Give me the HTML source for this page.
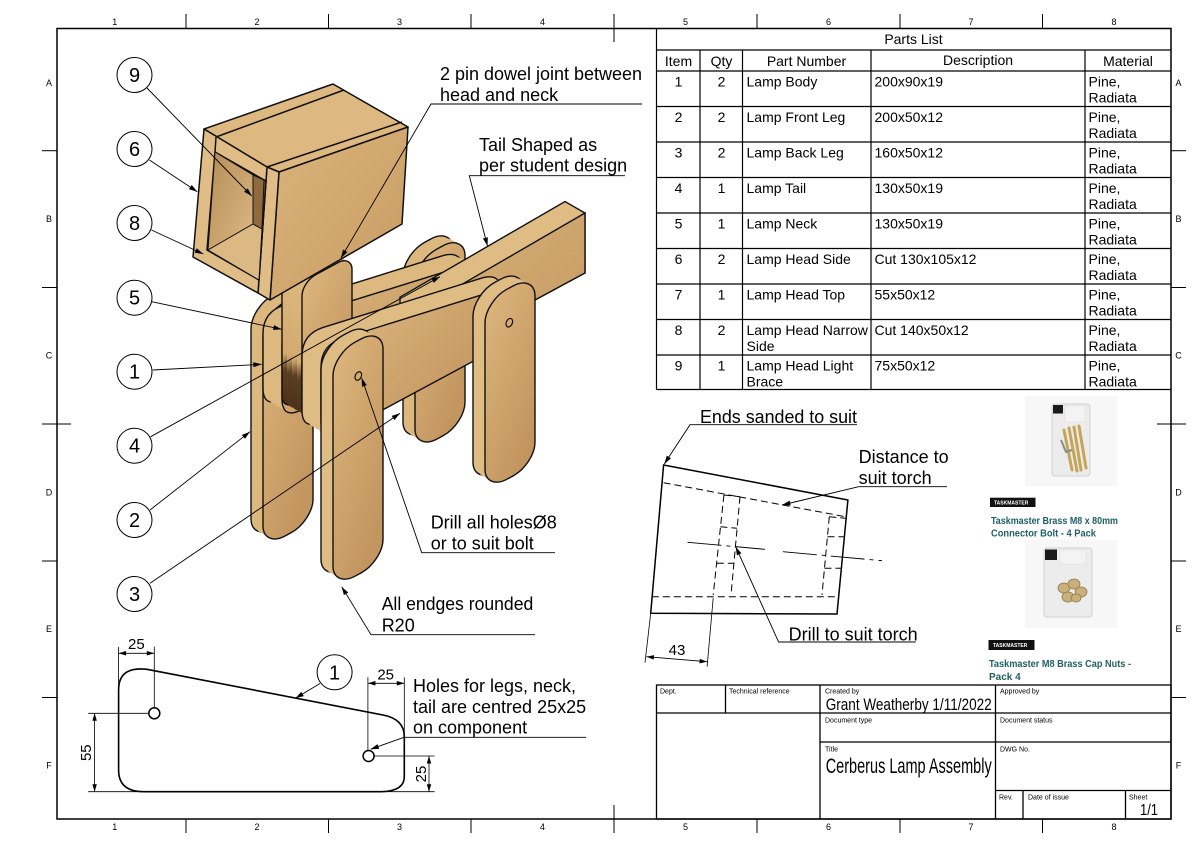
<!DOCTYPE html>
<html><head><meta charset="utf-8"><style>
html,body{margin:0;padding:0;background:#fff;}
svg{display:block;}
text{font-family:"Liberation Sans",Arial,sans-serif;fill:#000;}
</style></head><body>
<svg width="1200" height="848" viewBox="0 0 1200 848" xmlns="http://www.w3.org/2000/svg">
<defs>
 <marker id="ar" viewBox="0 0 10 6" refX="10" refY="3" markerWidth="9" markerHeight="5" orient="auto" markerUnits="userSpaceOnUse"><path d="M0,0 L10,3 L0,6 Z" fill="#000"/></marker>
 <marker id="ad" viewBox="0 0 10 6" refX="10" refY="3" markerWidth="8" markerHeight="4.5" orient="auto-start-reverse" markerUnits="userSpaceOnUse"><path d="M0,0 L10,3 L0,6 Z" fill="#000"/></marker>
 <linearGradient id="gF" x1="0" y1="0" x2="0.6" y2="1"><stop offset="0" stop-color="#dcb57c"/><stop offset="1" stop-color="#c39660"/></linearGradient>
 <linearGradient id="gB" x1="0" y1="0" x2="1" y2="1"><stop offset="0" stop-color="#d9b27a"/><stop offset="1" stop-color="#c59862"/></linearGradient>
 <linearGradient id="gN" x1="0" y1="0" x2="0" y2="1"><stop offset="0" stop-color="#ddb97f"/><stop offset="0.6" stop-color="#d3aa70"/><stop offset="0.72" stop-color="#5c3e22"/><stop offset="1" stop-color="#4a3018"/></linearGradient>
 <linearGradient id="gH" x1="0" y1="0" x2="1" y2="1"><stop offset="0" stop-color="#dab47b"/><stop offset="1" stop-color="#c89c64"/></linearGradient>
 <linearGradient id="gO" x1="0" y1="0" x2="1" y2="1"><stop offset="0" stop-color="#b58c56"/><stop offset="1" stop-color="#dcb985"/></linearGradient>
 <path id="bp" vector-effect="non-scaling-stroke" d="M0,22 Q0,0 21.5,4.8 L178.5,40.2 Q200,45 200,67 L200,76 Q200,98 178,98 L22,98 Q0,98 0,76 Z"/>
 <rect id="lf" vector-effect="non-scaling-stroke" width="50" height="234" rx="22" ry="22"/>
 <rect id="lb" vector-effect="non-scaling-stroke" width="50" height="190" rx="22" ry="22"/>
 <rect id="nk" vector-effect="non-scaling-stroke" width="50" height="140" rx="14" ry="14"/>
</defs>

<!-- ===== Frame ===== -->
<rect x="57" y="28.5" width="1114" height="790.5" fill="none" stroke="#000" stroke-width="1.5"/>
<g stroke="#000" stroke-width="1">
 <line x1="186" y1="14" x2="186" y2="28.5"/><line x1="328.5" y1="14" x2="328.5" y2="28.5"/><line x1="471" y1="14" x2="471" y2="28.5"/><line x1="614" y1="14" x2="614" y2="42"/><line x1="757" y1="14" x2="757" y2="28.5"/><line x1="900" y1="14" x2="900" y2="28.5"/><line x1="1042.5" y1="14" x2="1042.5" y2="28.5"/>
 <line x1="186" y1="819" x2="186" y2="833"/><line x1="328.5" y1="819" x2="328.5" y2="833"/><line x1="471" y1="819" x2="471" y2="833"/><line x1="614" y1="805" x2="614" y2="833"/><line x1="757" y1="819" x2="757" y2="833"/><line x1="900" y1="819" x2="900" y2="833"/><line x1="1042.5" y1="819" x2="1042.5" y2="833"/>
 <line x1="42" y1="150.7" x2="57" y2="150.7"/><line x1="42" y1="287.5" x2="57" y2="287.5"/><line x1="42" y1="424" x2="71" y2="424"/><line x1="42" y1="561" x2="57" y2="561"/><line x1="42" y1="697.5" x2="57" y2="697.5"/>
 <line x1="1171" y1="150.7" x2="1186" y2="150.7"/><line x1="1171" y1="287.5" x2="1186" y2="287.5"/><line x1="1157" y1="424" x2="1186" y2="424"/><line x1="1171" y1="561" x2="1186" y2="561"/><line x1="1171" y1="697.5" x2="1186" y2="697.5"/>
</g>
<g font-size="9" text-anchor="middle">
 <text x="114.7" y="25">1</text><text x="257" y="25">2</text><text x="399.5" y="25">3</text><text x="542.5" y="25">4</text><text x="685.5" y="25">5</text><text x="828.5" y="25">6</text><text x="971" y="25">7</text><text x="1114" y="25">8</text>
 <text x="114.7" y="830">1</text><text x="257" y="830">2</text><text x="399.5" y="830">3</text><text x="542.5" y="830">4</text><text x="685.5" y="830">5</text><text x="828.5" y="830">6</text><text x="971" y="830">7</text><text x="1114" y="830">8</text>
 <text x="49" y="86">A</text><text x="49" y="222">B</text><text x="49" y="358.5">C</text><text x="49" y="495.5">D</text><text x="49" y="632">E</text><text x="49" y="768.5">F</text>
 <text x="1178.5" y="86">A</text><text x="1178.5" y="222">B</text><text x="1178.5" y="358.5">C</text><text x="1178.5" y="495.5">D</text><text x="1178.5" y="632">E</text><text x="1178.5" y="768.5">F</text>
</g>

<!-- ===== Parts list ===== -->
<g stroke="#000" stroke-width="1.2" fill="none">
 <line x1="656.5" y1="28.5" x2="656.5" y2="389.5"/>
 <line x1="656.5" y1="50" x2="1171" y2="50"/>
 <line x1="656.5" y1="71" x2="1171" y2="71"/>
 <line x1="656.5" y1="106.5" x2="1171" y2="106.5"/>
 <line x1="656.5" y1="142" x2="1171" y2="142"/>
 <line x1="656.5" y1="177.5" x2="1171" y2="177.5"/>
 <line x1="656.5" y1="213" x2="1171" y2="213"/>
 <line x1="656.5" y1="248.5" x2="1171" y2="248.5"/>
 <line x1="656.5" y1="284" x2="1171" y2="284"/>
 <line x1="656.5" y1="319.5" x2="1171" y2="319.5"/>
 <line x1="656.5" y1="355" x2="1171" y2="355"/>
 <line x1="656.5" y1="389.5" x2="1171" y2="389.5"/>
 <line x1="700" y1="50" x2="700" y2="389.5"/>
 <line x1="742.5" y1="50" x2="742.5" y2="389.5"/>
 <line x1="871" y1="50" x2="871" y2="389.5"/>
 <line x1="1085" y1="50" x2="1085" y2="389.5"/>
</g>
<g font-size="14">
 <text x="913.5" y="44" text-anchor="middle">Parts List</text>
 <text x="678.5" y="66" text-anchor="middle">Item</text>
 <text x="721.5" y="66" text-anchor="middle">Qty</text>
 <text x="806.5" y="66" text-anchor="middle">Part Number</text>
 <text x="978" y="65" text-anchor="middle">Description</text>
 <text x="1128" y="66" text-anchor="middle">Material</text>
 <g text-anchor="middle">
  <text x="678.5" y="86.5">1</text><text x="721.5" y="86.5">2</text>
  <text x="678.5" y="122">2</text><text x="721.5" y="122">2</text>
  <text x="678.5" y="157.5">3</text><text x="721.5" y="157.5">2</text>
  <text x="678.5" y="193">4</text><text x="721.5" y="193">1</text>
  <text x="678.5" y="228.5">5</text><text x="721.5" y="228.5">1</text>
  <text x="678.5" y="264">6</text><text x="721.5" y="264">2</text>
  <text x="678.5" y="299.5">7</text><text x="721.5" y="299.5">1</text>
  <text x="678.5" y="335">8</text><text x="721.5" y="335">2</text>
  <text x="678.5" y="370.5">9</text><text x="721.5" y="370.5">1</text>
 </g>
 <text x="746.5" y="86.5">Lamp Body</text>
 <text x="746.5" y="122">Lamp Front Leg</text>
 <text x="746.5" y="157.5">Lamp Back Leg</text>
 <text x="746.5" y="193">Lamp Tail</text>
 <text x="746.5" y="228.5">Lamp Neck</text>
 <text x="746.5" y="264">Lamp Head Side</text>
 <text x="746.5" y="299.5">Lamp Head Top</text>
 <text x="746.5" y="335">Lamp Head Narrow</text><text x="746.5" y="351">Side</text>
 <text x="746.5" y="370.5">Lamp Head Light</text><text x="746.5" y="386.5">Brace</text>
 <text x="874.5" y="86.5">200x90x19</text>
 <text x="874.5" y="122">200x50x12</text>
 <text x="874.5" y="157.5">160x50x12</text>
 <text x="874.5" y="193">130x50x19</text>
 <text x="874.5" y="228.5">130x50x19</text>
 <text x="874.5" y="264">Cut 130x105x12</text>
 <text x="874.5" y="299.5">55x50x12</text>
 <text x="874.5" y="335">Cut 140x50x12</text>
 <text x="874.5" y="370.5">75x50x12</text>
 <g>
  <text x="1088.5" y="86.5">Pine,</text><text x="1088.5" y="102.5">Radiata</text>
  <text x="1088.5" y="122">Pine,</text><text x="1088.5" y="138">Radiata</text>
  <text x="1088.5" y="157.5">Pine,</text><text x="1088.5" y="173.5">Radiata</text>
  <text x="1088.5" y="193">Pine,</text><text x="1088.5" y="209">Radiata</text>
  <text x="1088.5" y="228.5">Pine,</text><text x="1088.5" y="244.5">Radiata</text>
  <text x="1088.5" y="264">Pine,</text><text x="1088.5" y="280">Radiata</text>
  <text x="1088.5" y="299.5">Pine,</text><text x="1088.5" y="315.5">Radiata</text>
  <text x="1088.5" y="335">Pine,</text><text x="1088.5" y="351">Radiata</text>
  <text x="1088.5" y="370.5">Pine,</text><text x="1088.5" y="386.5">Radiata</text>
 </g>
</g>

<!-- ===== Title block ===== -->
<g stroke="#000" stroke-width="1.3" fill="none">
 <rect x="656.5" y="685" width="514.5" height="134"/>
 <line x1="656.5" y1="713" x2="1171" y2="713"/>
 <line x1="820" y1="742" x2="1171" y2="742"/>
 <line x1="995.5" y1="790.5" x2="1171" y2="790.5"/>
 <line x1="725.5" y1="685" x2="725.5" y2="713"/>
 <line x1="820" y1="685" x2="820" y2="819"/>
 <line x1="995.5" y1="685" x2="995.5" y2="819"/>
 <line x1="1023" y1="790.5" x2="1023" y2="819"/>
 <line x1="1125.5" y1="790.5" x2="1125.5" y2="819"/>
</g>
<g font-size="7">
 <text x="660" y="693.5">Dept.</text>
 <text x="729" y="693.5">Technical reference</text>
 <text x="825" y="693.5">Created by</text>
 <text x="1000" y="693.5">Approved by</text>
 <text x="825" y="722.5">Document type</text>
 <text x="1000" y="722.5">Document status</text>
 <text x="825" y="751.5">Title</text>
 <text x="1000" y="751.5">DWG No.</text>
 <text x="999" y="799.5">Rev.</text>
 <text x="1028" y="799.5">Date of issue</text>
 <text x="1129" y="799.5">Sheet</text>
</g>
<text x="825.7" y="710" font-size="16.5" textLength="166" lengthAdjust="spacingAndGlyphs">Grant Weatherby 1/11/2022</text>
<text x="825.7" y="773" font-size="21" textLength="166" lengthAdjust="spacingAndGlyphs">Cerberus Lamp Assembly</text>
<text x="1140" y="815" font-size="16" textLength="18" lengthAdjust="spacingAndGlyphs">1/1</text>

<!-- ===== Products ===== -->
<rect x="1025" y="396" width="92" height="90" fill="#f7f7f7"/>
<rect x="1052" y="404" width="38" height="72" rx="3" fill="#ececec" stroke="#d2d2d2"/>
<rect x="1053" y="405" width="10" height="8.5" fill="#1a1a1a"/>
<rect x="1065" y="406" width="20" height="16" fill="#f3f3f3" stroke="#ddd" stroke-width="0.5"/>
<g stroke="#c7a558" stroke-width="3" stroke-linecap="round">
 <line x1="1064" y1="430" x2="1072" y2="470"/>
 <line x1="1069" y1="428" x2="1077" y2="471"/>
 <line x1="1074" y1="427" x2="1081" y2="470"/>
 <line x1="1079" y1="426" x2="1086" y2="468"/>
</g>
<path d="M1061,440 L1066,452 L1072,450" fill="none" stroke="#8a8a8a" stroke-width="2"/>
<rect x="990" y="497.7" width="45.5" height="9.3" fill="#111"/>
<text x="994" y="504.5" font-size="5" style="fill:#fff" font-weight="bold">TASKMASTER</text>
<g font-size="10" font-weight="bold">
 <text x="991" y="524" textLength="127" lengthAdjust="spacingAndGlyphs" style="fill:#1f6067">Taskmaster Brass M8 x 80mm</text>
 <text x="991" y="536.5" style="fill:#1f6067" textLength="105" lengthAdjust="spacingAndGlyphs">Connector Bolt - 4 Pack</text>
</g>
<rect x="1025" y="540" width="92" height="88" fill="#f7f7f7"/>
<rect x="1044" y="548" width="48" height="69" rx="3" fill="#ececec" stroke="#d2d2d2"/>
<rect x="1045" y="549.5" width="12" height="10.5" fill="#1a1a1a"/>
<rect x="1060" y="550" width="26" height="14" fill="#f3f3f3" stroke="#ddd" stroke-width="0.5"/>
<g fill="#c9b07a" stroke="#8f7a4a" stroke-width="0.8">
 <ellipse cx="1064" cy="588" rx="6" ry="5"/>
 <ellipse cx="1074" cy="584" rx="6" ry="5"/>
 <ellipse cx="1081" cy="592" rx="6" ry="5"/>
 <ellipse cx="1068" cy="597" rx="6" ry="5"/>
 <ellipse cx="1076" cy="598" rx="5" ry="4"/>
</g>
<rect x="988.5" y="640" width="46" height="10" fill="#111"/>
<text x="993" y="647" font-size="5" style="fill:#fff" font-weight="bold">TASKMASTER</text>
<g font-size="10" font-weight="bold">
 <text x="989" y="667" style="fill:#1f6067" textLength="142" lengthAdjust="spacingAndGlyphs">Taskmaster M8 Brass Cap Nuts -</text>
 <text x="989" y="680" style="fill:#1f6067">Pack 4</text>
</g>

<!-- ===== Sanded end view ===== -->
<g fill="none" stroke="#000">
 <path d="M663.6,465 L847.9,500 L837,614 L650.7,613.3 Z" stroke-width="1.5"/>
 <line x1="650.7" y1="613.3" x2="645" y2="662.7" stroke-width="0.8"/>
 <line x1="713.2" y1="598" x2="707.1" y2="666.7" stroke-width="0.8"/>
 <line x1="646.4" y1="656.7" x2="707.1" y2="661.7" stroke-width="0.8" marker-start="url(#ad)" marker-end="url(#ad)"/>
 <g stroke-width="1" stroke-dasharray="7 4">
  <line x1="663.6" y1="482.7" x2="845.4" y2="516.7"/>
  <line x1="651.8" y1="596.7" x2="838.2" y2="596.7"/>
  <line x1="723.9" y1="495" x2="713.2" y2="595"/>
  <line x1="740" y1="496.7" x2="731" y2="595"/>
  <line x1="723.9" y1="495" x2="740" y2="496.7"/>
  <line x1="720.4" y1="526.7" x2="737" y2="528.3"/>
  <line x1="716.8" y1="563.3" x2="733.6" y2="563.3"/>
  <line x1="829.3" y1="516.7" x2="822" y2="595"/>
  <line x1="829.3" y1="516.7" x2="845.4" y2="518.3"/>
  <line x1="827.5" y1="536.7" x2="843.6" y2="536.7"/>
  <line x1="824.5" y1="568.3" x2="840.8" y2="568.3"/>
 </g>
 <g stroke-width="0.9" stroke-dasharray="34 5 4 5">
  <line x1="687.5" y1="542.3" x2="765" y2="549.3"/>
  <line x1="782.9" y1="551.7" x2="882" y2="560.7"/>
 </g>
 <g stroke-width="0.9">
  <polyline points="857,424.7 690,424.7 664.3,464" marker-end="url(#ar)"/>
  <polyline points="947,486.7 858.6,486.7 782,505" marker-end="url(#ar)"/>
  <polyline points="915.7,642 778.6,642 735.7,546.7" marker-end="url(#ar)"/>
 </g>
</g>
<text x="700" y="423" font-size="18" textLength="157" lengthAdjust="spacingAndGlyphs">Ends sanded to suit</text>
<text x="858.6" y="463" font-size="18">Distance to</text>
<text x="858.6" y="484" font-size="18">suit torch</text>
<text x="788.6" y="640.5" font-size="18">Drill to suit torch</text>
<text x="677" y="655" font-size="15" text-anchor="middle">43</text>

<!-- ===== Isometric assembly ===== -->
<use href="#lb" transform="matrix(1,-0.537,0,1,403,253.9)" fill="#dcb87f" stroke="#111" stroke-width="1.4"/>
<use href="#lb" transform="matrix(1,-0.537,0,1,407,256.2)" fill="#dcb87f"/>
<use href="#lb" transform="matrix(1,-0.537,0,1,411,258.5)" fill="#dcb87f"/>
<use href="#lb" transform="matrix(1,-0.537,0,1,415,260.8)" fill="url(#gF)" stroke="#111" stroke-width="1.4"/>
<use href="#lf" transform="matrix(1,-0.537,0,1,251,306.9)" fill="#dcb87f" stroke="#111" stroke-width="1.4"/>
<use href="#lf" transform="matrix(1,-0.537,0,1,255,309.2)" fill="#dcb87f"/>
<use href="#lf" transform="matrix(1,-0.537,0,1,259,311.5)" fill="#dcb87f"/>
<use href="#lf" transform="matrix(1,-0.537,0,1,263,313.8)" fill="url(#gF)" stroke="#111" stroke-width="1.4"/>
<use href="#bp" transform="matrix(1,-0.537,0,1,263,311.7)" fill="#ddb980" stroke="#111" stroke-width="1.4"/>
<use href="#bp" transform="matrix(1,-0.537,0,1,267.75,314.4)" fill="#ddb980"/>
<use href="#bp" transform="matrix(1,-0.537,0,1,272.5,317.1)" fill="#ddb980"/>
<use href="#bp" transform="matrix(1,-0.537,0,1,277.25,319.9)" fill="#ddb980"/>
<use href="#bp" transform="matrix(1,-0.537,0,1,282,322.6)" fill="url(#gB)" stroke="#111" stroke-width="1.4"/>
<polygon points="400,297.2 565,201.5 585,213 585,273 420,362 400,350.5" fill="#dfbc84" stroke="#111" stroke-width="1.4"/>
<polygon points="420,308.7 585,213 585,273 420,362" fill="url(#gB)" stroke="#111" stroke-width="1.4"/>
<use href="#nk" transform="matrix(1,-0.537,0,1,282,270.5)" fill="url(#gN)" stroke="#111" stroke-width="1.4"/>
<use href="#nk" transform="matrix(1,-0.537,0,1,287,273.4)" fill="url(#gN)"/>
<use href="#nk" transform="matrix(1,-0.537,0,1,292,276.3)" fill="url(#gN)"/>
<use href="#nk" transform="matrix(1,-0.537,0,1,297,279.1)" fill="url(#gN)"/>
<use href="#nk" transform="matrix(1,-0.537,0,1,302,282)" fill="url(#gF)" stroke="#111" stroke-width="1.4"/>
<g stroke="#111" stroke-width="1.5" stroke-linejoin="round">
 <polygon points="204,129 333,84 408,127 279,172 267,167" fill="#ddb981"/>
 <polygon points="279,172 408,127 402,224 270,300" fill="url(#gH)"/>
 <polygon points="267,167 279,172 270,300 258,293" fill="#e0bd86"/>
 <polygon points="204,129 267,167 258,293 193,257" fill="#e0bd86"/>
 <polygon points="215,152 266,181 259,280 207,250" fill="#7c5a33"/>
 <polygon points="215,152 253,175 253,224 208,250" fill="url(#gO)" stroke-width="1"/>
 <polygon points="208,250 253,224 262,229 259,280" fill="#dcb883" stroke-width="1"/>
 <polygon points="253,175 264,180 262,229 253,224" fill="#8e6a3e" stroke-width="1"/>
 <line x1="216" y1="137" x2="344" y2="90"/>
 <line x1="267" y1="167" x2="402" y2="122"/>
 <line x1="216" y1="137" x2="215" y2="152"/>
</g>
<use href="#bp" transform="matrix(1,-0.537,0,1,302,334.1)" fill="#dfbc84" stroke="#111" stroke-width="1.4"/>
<use href="#bp" transform="matrix(1,-0.537,0,1,306.75,336.8)" fill="#dfbc84"/>
<use href="#bp" transform="matrix(1,-0.537,0,1,311.5,339.5)" fill="#dfbc84"/>
<use href="#bp" transform="matrix(1,-0.537,0,1,316.25,342.3)" fill="#dfbc84"/>
<use href="#bp" transform="matrix(1,-0.537,0,1,321,345)" fill="url(#gB)" stroke="#111" stroke-width="1.4"/>
<use href="#lb" transform="matrix(1,-0.537,0,1,473,294.1)" fill="#dfbc84" stroke="#111" stroke-width="1.4"/>
<use href="#lb" transform="matrix(1,-0.537,0,1,477,296.4)" fill="#dfbc84"/>
<use href="#lb" transform="matrix(1,-0.537,0,1,481,298.7)" fill="#dfbc84"/>
<use href="#lb" transform="matrix(1,-0.537,0,1,485,301)" fill="url(#gF)" stroke="#111" stroke-width="1.4"/>
<use href="#lf" transform="matrix(1,-0.537,0,1,321,347.1)" fill="#dfbc84" stroke="#111" stroke-width="1.4"/>
<use href="#lf" transform="matrix(1,-0.537,0,1,325,349.4)" fill="#dfbc84"/>
<use href="#lf" transform="matrix(1,-0.537,0,1,329,351.7)" fill="#dfbc84"/>
<use href="#lf" transform="matrix(1,-0.537,0,1,333,354)" fill="url(#gF)" stroke="#111" stroke-width="1.4"/>
<ellipse cx="358.3" cy="376" rx="3" ry="4.5" transform="rotate(25 358.3 376)" fill="none" stroke="#111" stroke-width="1.2"/>
<ellipse cx="509.3" cy="322.7" rx="3" ry="4.5" transform="rotate(25 509.3 322.7)" fill="none" stroke="#111" stroke-width="1.2"/>

<g fill="#fff" stroke="#000" stroke-width="1">
 <circle cx="134.5" cy="75" r="17.5"/>
 <circle cx="134.5" cy="149" r="17.5"/>
 <circle cx="134.5" cy="223" r="17.5"/>
 <circle cx="134.5" cy="297.7" r="17.5"/>
 <circle cx="134.5" cy="371.7" r="17.5"/>
 <circle cx="134.5" cy="445.7" r="17.5"/>
 <circle cx="134.5" cy="520" r="17.5"/>
 <circle cx="134.5" cy="594" r="17.5"/>
</g>
<g font-size="20" text-anchor="middle">
 <text x="134.5" y="82">9</text>
 <text x="134.5" y="156">6</text>
 <text x="134.5" y="230">8</text>
 <text x="134.5" y="304.7">5</text>
 <text x="134.5" y="378.7">1</text>
 <text x="134.5" y="452.7">4</text>
 <text x="134.5" y="527">2</text>
 <text x="134.5" y="601">3</text>
</g>
<g stroke="#000" stroke-width="0.9" fill="none">
 <line x1="147" y1="88" x2="251.7" y2="196" marker-end="url(#ar)"/>
 <line x1="149.4" y1="160" x2="197.3" y2="191.7" marker-end="url(#ar)"/>
 <line x1="151.5" y1="230" x2="203.3" y2="254" marker-end="url(#ar)"/>
 <line x1="151.7" y1="301.7" x2="281.7" y2="329.3" marker-end="url(#ar)"/>
 <line x1="152.7" y1="370" x2="261.7" y2="364.3" marker-end="url(#ar)"/>
 <line x1="150.7" y1="436.7" x2="440" y2="276.7" marker-end="url(#ar)"/>
 <line x1="150" y1="510" x2="250" y2="431.7" marker-end="url(#ar)"/>
 <line x1="150" y1="583.3" x2="400" y2="413.3" marker-end="url(#ar)"/>
 <polyline points="642,104 431,104 341,258" marker-end="url(#ar)"/>
 <polyline points="625,175.7 469.3,175.7 487.5,246" marker-end="url(#ar)"/>
 <polyline points="555,552.7 421.7,552.7 361.7,378" marker-end="url(#ar)"/>
 <polyline points="535,634.7 371,634.7 341.7,586.7" marker-end="url(#ar)"/>
</g>
<text x="440" y="80" font-size="18" textLength="202" lengthAdjust="spacingAndGlyphs">2 pin dowel joint between</text>
<text x="440" y="101" font-size="18">head and neck</text>
<text x="479" y="151" font-size="18">Tail Shaped as</text>
<text x="479" y="171.5" font-size="18">per student design</text>
<text x="430.7" y="528.3" font-size="18">Drill all holesØ8</text>
<text x="430.7" y="549.3" font-size="18">or to suit bolt</text>
<text x="381.7" y="610" font-size="18" textLength="151.6" lengthAdjust="spacingAndGlyphs">All endges rounded</text>
<text x="381.7" y="631.5" font-size="18">R20</text>

<!-- ===== Profile view ===== -->
<path d="M118.6,690 Q118.6,666 147,669.3 L382.9,715 Q404.3,719 404.3,736.7 L404.3,776.7 Q404.3,791.7 379.3,791.7 L143.6,791.7 Q118.6,791.7 118.6,770 Z" fill="none" stroke="#000" stroke-width="1.6"/>
<circle cx="154.3" cy="713.3" r="5.5" fill="#fff" stroke="#000" stroke-width="1.5"/>
<circle cx="368.6" cy="756" r="5.5" fill="#fff" stroke="#000" stroke-width="1.5"/>
<g stroke="#000" stroke-width="0.8" fill="none">
 <line x1="118.6" y1="646.7" x2="118.6" y2="688"/>
 <line x1="154.3" y1="646.7" x2="154.3" y2="707.8"/>
 <line x1="118.6" y1="653.3" x2="154.3" y2="653.3" marker-start="url(#ad)" marker-end="url(#ad)"/>
 <line x1="88.2" y1="713.3" x2="148.8" y2="713.3"/>
 <line x1="88.2" y1="791.7" x2="434.6" y2="791.7"/>
 <line x1="94.6" y1="713.3" x2="94.6" y2="791.7" marker-start="url(#ad)" marker-end="url(#ad)"/>
 <line x1="367.9" y1="677.3" x2="367.9" y2="750.5"/>
 <line x1="404.3" y1="677.3" x2="404.3" y2="736"/>
 <line x1="367.9" y1="683.3" x2="404.3" y2="683.3" marker-start="url(#ad)" marker-end="url(#ad)"/>
 <line x1="374" y1="756" x2="434.6" y2="756"/>
 <line x1="429" y1="756" x2="429" y2="791.7" marker-start="url(#ad)" marker-end="url(#ad)"/>
 <polyline points="586,737.3 404,737.3 370.5,749.3" marker-end="url(#ar)" stroke-width="0.9"/>
 <line x1="320" y1="683.5" x2="295.4" y2="698.3" marker-end="url(#ar)" stroke-width="0.9"/>
</g>
<circle cx="334.6" cy="672.3" r="17.5" fill="#fff" stroke="#000" stroke-width="1"/>
<text x="334.6" y="679.5" font-size="20" text-anchor="middle">1</text>
<g font-size="15" text-anchor="middle">
 <text x="136.4" y="649">25</text>
 <text x="385.7" y="679.5">25</text>
 <text transform="translate(91,752.7) rotate(-90)">55</text>
 <text transform="translate(425.8,774) rotate(-90)">25</text>
</g>
<text x="413" y="692" font-size="18" textLength="163" lengthAdjust="spacingAndGlyphs">Holes for legs, neck,</text>
<text x="413" y="713" font-size="18">tail are centred 25x25</text>
<text x="413" y="733.5" font-size="18">on component</text>
</svg>
</body></html>
